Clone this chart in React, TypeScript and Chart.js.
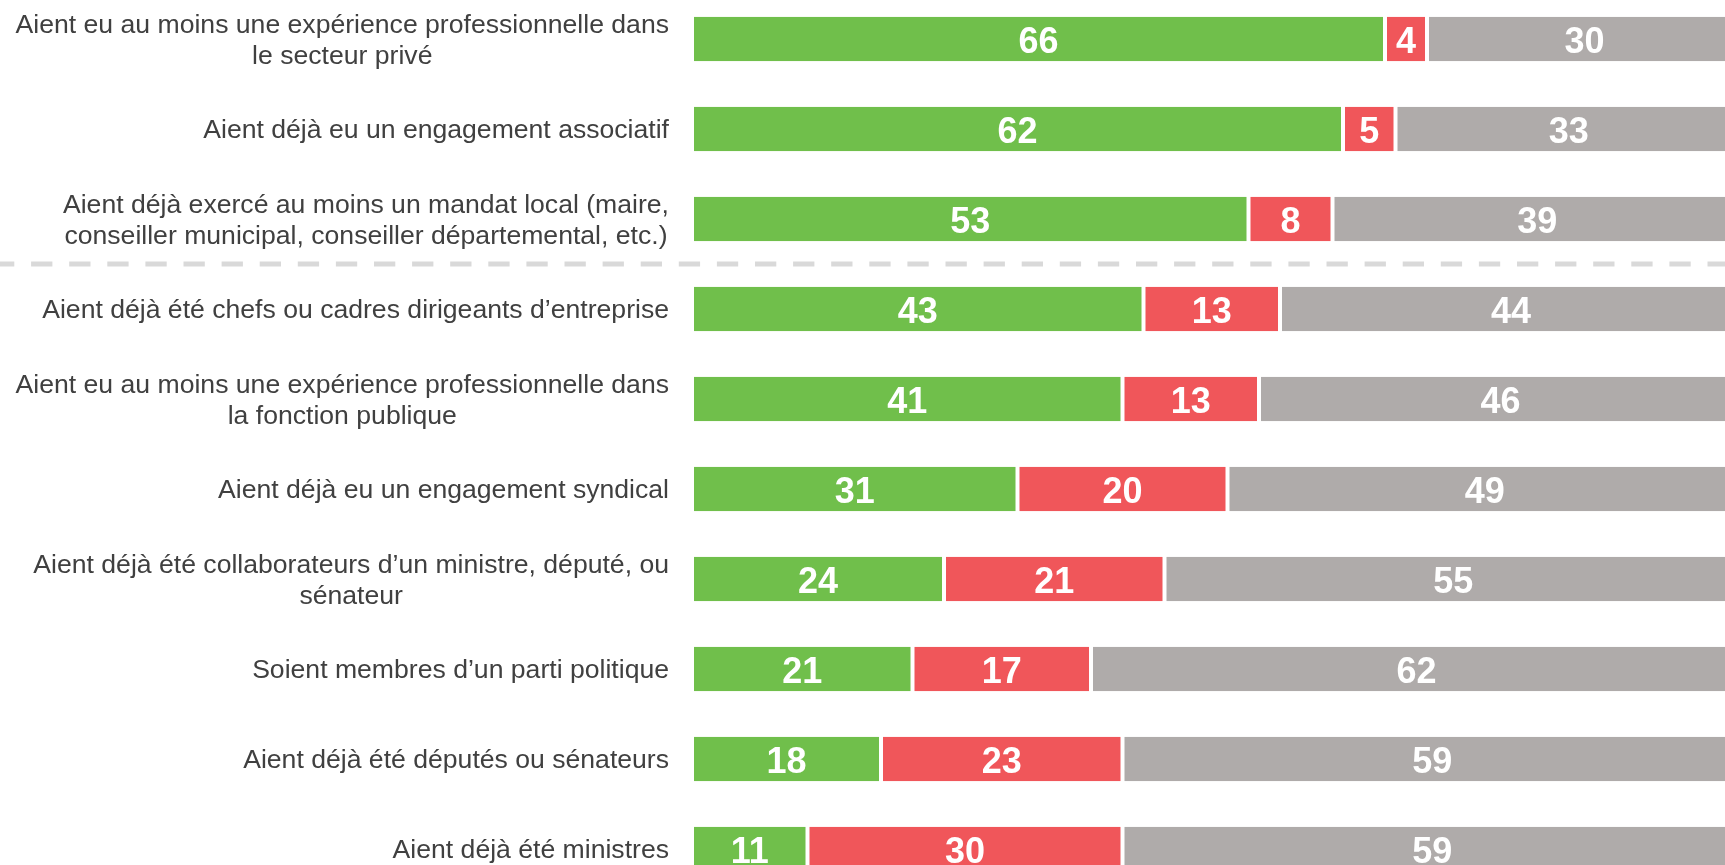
import { useEffect, useRef } from "react";
import { Chart, registerables } from "chart.js";

Chart.register(...registerables);

const categories: (string | string[])[] = [
  ["Aient eu au moins une expérience professionnelle dans", "le secteur privé"],
  "Aient déjà eu un engagement associatif",
  ["Aient déjà exercé au moins un mandat local (maire,", "conseiller municipal, conseiller départemental, etc.)"],
  "Aient déjà été chefs ou cadres dirigeants d’entreprise",
  ["Aient eu au moins une expérience professionnelle dans", "la fonction publique"],
  "Aient déjà eu un engagement syndical",
  ["Aient déjà été collaborateurs d’un ministre, député, ou", "sénateur"],
  "Soient membres d’un parti politique",
  "Aient déjà été députés ou sénateurs",
  "Aient déjà été ministres",
];

const greenValues = [66, 62, 53, 43, 41, 31, 24, 21, 18, 11];
const redValues = [4, 5, 8, 13, 13, 20, 21, 17, 23, 30];
const grayValues = [30, 33, 39, 44, 46, 49, 55, 62, 59, 59];

// index after which the dashed separator is drawn
const separatorAfter = 2;

const GREEN = "#70BF4B";
const RED = "#F0565A";
const GRAY = "#AFABAA";

const LABEL_FONT = "26.6px 'Liberation Sans', Arial, sans-serif";
const LABEL_LINE_HEIGHT = 30.8;
const LABEL_GAP = 23;

const valueLabelsPlugin = {
  id: "valueLabels",
  afterDatasetsDraw(chart: any) {
    const ctx = chart.ctx;
    ctx.save();
    ctx.font = "bold 36px 'Liberation Sans', Arial, sans-serif";
    ctx.fillStyle = "#FFFFFF";
    ctx.textAlign = "center";
    ctx.textBaseline = "middle";
    chart.data.datasets.forEach((ds: any, di: number) => {
      const meta = chart.getDatasetMeta(di);
      meta.data.forEach((el: any, i: number) => {
        const cx = (el.x + el.base) / 2;
        ctx.fillText(String(ds.data[i]), cx, el.y + 4);
      });
    });
    ctx.restore();
  },
};

// category labels: block right-aligned to the axis, lines centred within the block
const categoryLabelsPlugin = {
  id: "categoryLabels",
  afterDraw(chart: any) {
    const y = chart.scales.y;
    const ctx = chart.ctx;
    const right = chart.chartArea.left - LABEL_GAP;
    ctx.save();
    ctx.font = LABEL_FONT;
    ctx.fillStyle = "#404040";
    ctx.textAlign = "center";
    ctx.textBaseline = "middle";
    (chart.data.labels as any[]).forEach((lab: any, i: number) => {
      const lines: string[] = Array.isArray(lab) ? lab : [lab];
      const maxW = Math.max(...lines.map((l) => ctx.measureText(l).width));
      const cx = right - maxW / 2;
      const cy = y.getPixelForValue(i) + 2;
      lines.forEach((l, j) => {
        ctx.fillText(l, cx, cy + (j - (lines.length - 1) / 2) * LABEL_LINE_HEIGHT);
      });
    });
    ctx.restore();
  },
};

const separatorPlugin = {
  id: "separator",
  afterDatasetsDraw(chart: any) {
    const y = chart.scales.y;
    const py = (y.getPixelForValue(separatorAfter) + y.getPixelForValue(separatorAfter + 1)) / 2;
    const ctx = chart.ctx;
    ctx.save();
    ctx.strokeStyle = "#D9D9D9";
    ctx.lineWidth = 5;
    ctx.setLineDash([21.3, 16.8]);
    ctx.lineDashOffset = 7;
    ctx.beginPath();
    ctx.moveTo(0, py);
    ctx.lineTo(chart.width, py);
    ctx.stroke();
    ctx.restore();
  },
};

export default function App() {
  const canvasRef = useRef<HTMLCanvasElement | null>(null);

  useEffect(() => {
    document.body.style.margin = "0";
    document.body.style.overflow = "hidden";
    const canvas = canvasRef.current;
    if (!canvas) return;
    const barStyle = {
      borderColor: "#FFFFFF",
      borderWidth: { left: 2, right: 2, top: 0, bottom: 0 },
      borderSkipped: false,
      barPercentage: 1,
      categoryPercentage: 0.494,
    };
    const chart = new Chart(canvas, {
      type: "bar",
      data: {
        labels: categories,
        datasets: [
          { label: "Oui", data: greenValues, backgroundColor: GREEN, ...barStyle } as any,
          { label: "Non", data: redValues, backgroundColor: RED, ...barStyle } as any,
          { label: "Autre", data: grayValues, backgroundColor: GRAY, ...barStyle } as any,
        ],
      },
      options: {
        indexAxis: "y",
        responsive: false,
        animation: false,
        devicePixelRatio: 1,
        layout: { padding: 0, autoPadding: false },
        plugins: {
          legend: { display: false },
          tooltip: { enabled: false },
        },
        scales: {
          x: {
            stacked: true,
            display: false,
            min: 0,
            max: 100,
            grid: { display: false },
          },
          y: {
            stacked: true,
            border: { display: false },
            grid: { display: false, drawTicks: false },
            ticks: { display: false },
            afterFit(scale: any) {
              scale.width = 692;
              scale.paddingTop = 0;
              scale.paddingBottom = 0;
            },
          },
        },
      } as any,
      plugins: [separatorPlugin, valueLabelsPlugin, categoryLabelsPlugin],
    });
    return () => chart.destroy();
  }, []);

  return (
    <div style={{ position: "relative", width: 1725, height: 865, overflow: "hidden", background: "#FFFFFF" }}>
      <canvas
        ref={canvasRef}
        width={1742}
        height={900}
        style={{ position: "absolute", left: 0, top: -6, width: 1742, height: 900 }}
      />
    </div>
  );
}
